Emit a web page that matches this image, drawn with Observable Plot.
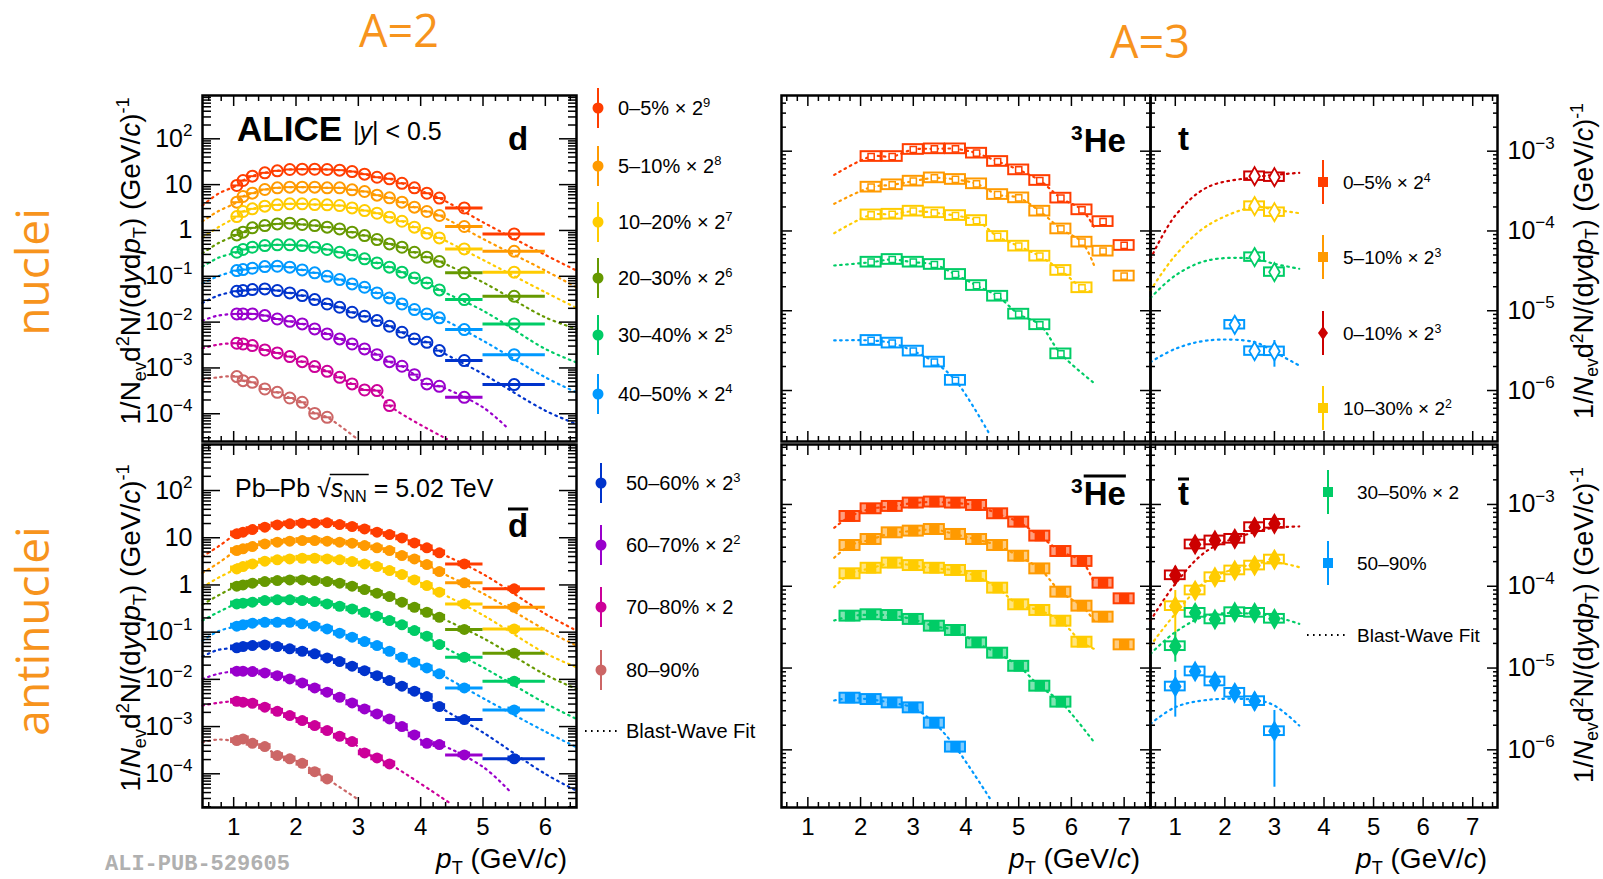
<!DOCTYPE html>
<html><head><meta charset="utf-8">
<script src="https://cdn.jsdelivr.net/npm/d3@7"></script>
<script src="https://cdn.jsdelivr.net/npm/@observablehq/plot@0.6"></script>
<style>
html,body{margin:0;padding:0;background:#fff;}
#root{position:relative;width:1603px;height:879px;overflow:hidden;background:#fff;}
</style></head>
<body><div id="root"></div>
<script>
// ================= DATA =================
// A=2 : deuterons, 10 centrality classes
const centralityD = ["0–5%","5–10%","10–20%","20–30%","30–40%","40–50%","50–60%","60–70%","70–80%","80–90%"];
const factorExpD = [9,8,7,6,5,4,3,2,1,0];
const colorsD = ["#ff3d00","#ff9a00","#ffcc00","#669900","#00cc66","#0099ff","#0033cc","#9900cc","#cc0099","#cc6666"];
const dBinEdges = [1.0,1.1,1.2,1.4,1.6,1.8,2.0,2.2,2.4,2.6,2.8,3.0,3.2,3.4,3.6,3.8,4.0,4.2,4.4,5.0,6.0];

const d0_5   = [9.6,12.3,15.3,18.1,20.0,21.4,21.7,21.7,21.4,20.7,19.3,16.9,14.5,13.4,10.7,8.5,6.5,5.1,3.1,0.84];
const d5_10  = [4.14,5.51,6.51,7.83,8.51,8.81,8.81,8.81,8.51,8.51,7.70,7.08,5.89,5.15,4.14,3.22,2.59,2.12,1.22,0.352];
const d10_20 = [2.01,2.59,2.96,3.39,3.62,3.81,3.81,3.68,3.62,3.50,3.11,2.72,2.38,1.95,1.59,1.18,0.871,0.689,0.396,0.123];
const d20_30 = [0.800,0.917,1.14,1.28,1.39,1.44,1.35,1.28,1.18,1.08,0.917,0.774,0.634,0.509,0.431,0.335,0.261,0.210,0.119,0.0367];
const d30_40 = [0.335,0.384,0.431,0.469,0.485,0.485,0.469,0.431,0.384,0.335,0.293,0.240,0.196,0.158,0.123,0.0923,0.0718,0.0505,0.0310,0.00914];
const d40_50 = [0.133,0.140,0.150,0.163,0.166,0.158,0.138,0.119,0.100,0.0849,0.0682,0.0577,0.0434,0.0337,0.0249,0.0188,0.0151,0.0124,0.00687,0.00195];
const d50_60 = [0.0472,0.0489,0.0513,0.0531,0.0489,0.0434,0.0379,0.0310,0.0249,0.0211,0.0164,0.0134,0.0108,0.00813,0.00601,0.00430,0.00363,0.00239,0.00145,0.000433];
const d60_70 = [0.0151,0.0151,0.0151,0.0139,0.0117,0.0104,0.00914,0.00711,0.00552,0.00430,0.00334,0.00260,0.00195,0.00137,0.00109,0.000714,0.000448,0.000398,0.000229];
const d70_80 = [0.00346,0.00334,0.00308,0.00247,0.00213,0.00177,0.00137,0.00107,0.000845,0.000625,0.000448,0.000331,0.000320,0.000151];
const d80_90 = [0.000647,0.000528,0.000486,0.000348,0.000294,0.000221,0.000178,0.000102,0.0000838];

const dbar0_5   = [12.1,13.1,14.9,16.7,18.7,19.7,20.3,20.3,20.7,19.0,17.3,15.4,13.1,11.7,9.93,7.78,6.10,4.78,2.79,0.826];
const dbar5_10  = [5.36,5.81,6.51,7.41,8.04,8.45,8.73,8.73,8.45,8.04,7.66,6.84,6.10,5.36,4.20,3.56,2.70,1.92,1.11,0.337];
const dbar10_20 = [2.19,2.45,2.79,3.18,3.40,3.56,3.68,3.68,3.56,3.40,3.13,2.79,2.45,2.02,1.66,1.28,0.971,0.702,0.397,0.117];
const dbar20_30 = [0.940,1.00,1.09,1.18,1.24,1.28,1.28,1.24,1.18,1.09,0.940,0.800,0.668,0.568,0.431,0.337,0.264,0.207,0.114,0.0358];
const dbar30_40 = [0.397,0.410,0.431,0.467,0.483,0.483,0.467,0.445,0.397,0.354,0.311,0.264,0.218,0.176,0.143,0.108,0.0820,0.0546,0.0294,0.00912];
const dbar40_50 = [0.134,0.143,0.155,0.162,0.162,0.162,0.150,0.134,0.117,0.0949,0.0781,0.0632,0.0520,0.0394,0.0294,0.0231,0.0175,0.0131,0.00659,0.00225];
const dbar50_60 = [0.0465,0.0495,0.0520,0.0537,0.0495,0.0443,0.0394,0.0347,0.0285,0.0238,0.0190,0.0153,0.0120,0.00944,0.00716,0.00561,0.00433,0.00265,0.00141,0.000207];
const dbar60_70 = [0.0149,0.0149,0.0146,0.0137,0.0120,0.0102,0.00841,0.00659,0.00534,0.00418,0.00317,0.00237,0.00185,0.00145,0.00100,0.000665,0.000443,0.000416,0.000251];
const dbar70_80 = [0.00344,0.00328,0.00312,0.00257,0.00211,0.00171,0.00134,0.00105,0.000822,0.000624,0.000481,0.000277,0.000217,0.000162];
const dbar80_90 = [0.000505,0.000548,0.000443,0.000377,0.000243,0.000207,0.000167,0.000111,0.0000778];

// Blast-wave fit curve readings (d): at pT 0.5, 0.75, 5.0, 6.0 and the end point of each curve
const dFitAt05  = [3.5,1.59,0.71,0.318,0.163,0.0703,0.0262,0.0108,0.00268,0.000556];
const dFitAt075 = [6.3,2.62,1.17,0.526,0.252,0.100,0.0379,0.0139,0.00323,0.000624];
const dFitAt50  = [1.51,0.656,0.228,0.0740,0.0178,0.00394,0.00074,0.000138,null,null];
const dFitAt60  = [0.293,0.133,0.0448,0.0127,0.0026,0.000624,0.000117,null,null,null];
const dFitEndX  = [6.5,6.5,6.5,6.5,6.5,6.5,6.5,5.41,4.42,2.98];
const dFitEndY  = [0.133,0.0575,0.0204,0.00711,0.00132,0.000293,0.0000598,0.0000466,0.0000282,0.0000282];

const dbarFitAt05  = [4.0,1.80,0.895,0.384,0.176,0.0664,0.0304,0.0102,0.00279,0.000466];
const dbarFitAt075 = [6.5,2.88,1.41,0.596,0.264,0.104,0.0421,0.0131,0.00318,0.000531];
const dbarFitAt50  = [1.7,0.66,0.23,0.075,0.018,0.0040,0.00075,0.000140,null,null];
const dbarFitAt60  = [0.244,0.112,0.0358,0.0126,0.00312,0.000783,0.0000993,null,null,null];
const dbarFitEndX  = [6.5,6.5,6.5,6.5,6.5,6.5,6.5,5.42,4.45,2.98];
const dbarFitEndY  = [0.108,0.052,0.0181,0.00628,0.00145,0.000365,0.0000441,0.0000441,0.0000249,0.0000295];

// A=3 : 3He (squares), 5 classes
const colorsA3 = ["#ff3d00","#ff9a00","#ffcc00","#00cc66","#0099ff"];
const he3BinCenters = [1.8,2.2,2.6,3.0,3.4,3.8,4.2,4.6,5.0,5.4,5.8,6.2,6.6,7.0];
const he3_0_5   = [8.57e-4,8.57e-4,1.05e-3,1.07e-3,1.07e-3,9.44e-4,7.43e-4,5.83e-4,4.29e-4,2.58e-4,1.84e-4,1.31e-4,6.58e-5];
const he3_5_10  = [3.54e-4,3.79e-4,4.21e-4,4.63e-4,4.42e-4,3.90e-4,2.86e-4,2.60e-4,1.77e-4,1.06e-4,7.24e-5,5.58e-5,2.72e-5];
const he3_10_30 = [1.59e-4,1.62e-4,1.77e-4,1.69e-4,1.56e-4,1.35e-4,8.53e-5,6.45e-5,4.83e-5,3.20e-5,1.94e-5];
const he3_30_50 = [4.06e-5,4.39e-5,4.06e-5,3.80e-5,2.85e-5,2.07e-5,1.52e-5,9.06e-6,6.67e-6,2.88e-6];
const he3_50_90 = [4.24e-6,3.93e-6,3.12e-6,2.27e-6,1.34e-6];
const he3bar_0_5   = [7.13e-4,8.85e-4,9.46e-4,1.04e-3,1.07e-3,1.04e-3,9.72e-4,7.69e-4,6.08e-4,4.10e-4,2.66e-4,2.01e-4,1.09e-4,7.02e-5];
const he3bar_5_10  = [3.15e-4,3.73e-4,4.50e-4,4.72e-4,4.94e-4,4.30e-4,3.73e-4,3.15e-4,2.33e-4,1.63e-4,8.47e-5,5.71e-5,4.19e-5,1.92e-5];
const he3bar_10_30 = [1.42e-4,1.66e-4,1.92e-4,1.79e-4,1.66e-4,1.56e-4,1.32e-4,9.48e-5,5.93e-5,5.06e-5,3.74e-5,2.07e-5];
const he3bar_30_50 = [4.31e-5,4.48e-5,4.39e-5,3.93e-5,3.25e-5,2.88e-5,2.03e-5,1.52e-5,1.05e-5,6.00e-6,3.83e-6];
const he3bar_50_90 = [4.28e-6,4.12e-6,3.75e-6,3.26e-6,2.12e-6,1.08e-6];
const he3FitAt15    = [5.04e-4,2.19e-4,9.38e-5,3.69e-5,4.24e-6];
const he3FitEndX    = [6.43,6.43,6.43,6.43,4.46];
const he3FitEndY    = [1.12e-4,3.69e-5,1.68e-5,1.24e-6,2.74e-7];
const he3barFitAt15 = [5.19e-4,2.23e-4,9.75e-5,3.81e-5,4.01e-6];
const he3barFitEndX = [6.43,6.43,6.43,6.43,4.46];
const he3barFitEndY = [1.10e-4,3.81e-5,1.72e-5,1.24e-6,2.51e-7];

// A=3 : triton (diamonds), 4 classes
const colorsT = ["#cc0000","#ffcc00","#00cc66","#0099ff"];
const tX      = [2.6,3.0];
const tX50_90 = [2.2,2.6,3.0];
const t0_10  = [4.86e-4,4.72e-4];  const t0_10Lo  = [4.45e-4,4.35e-4]; const t0_10Hi  = [5.30e-4,5.15e-4];
const t10_30 = [2.05e-4,1.72e-4];  const t10_30Lo = [1.88e-4,1.57e-4]; const t10_30Hi = [2.24e-4,1.89e-4];
const t30_50 = [4.70e-5,3.05e-5];  const t30_50Lo = [4.30e-5,2.65e-5]; const t30_50Hi = [5.15e-5,3.50e-5];
const t50_90 = [6.67e-6,3.12e-6,3.10e-6]; const t50_90Lo = [6.0e-6,2.4e-6,1.96e-6]; const t50_90Hi = [7.4e-6,4.0e-6,4.24e-6];
const tbarX = [1.0,1.4,1.8,2.2,2.6,3.0];
const tbar0_10  = [1.36e-4,3.24e-4,3.63e-4,3.80e-4,5.28e-4,5.80e-4];
const tbar0_10Lo = [1.05e-4,2.95e-4,3.35e-4,3.50e-4,4.85e-4,5.35e-4];
const tbar0_10Hi = [1.75e-4,3.55e-4,3.95e-4,4.15e-4,5.75e-4,6.30e-4];
const tbar10_30 = [5.71e-5,8.87e-5,1.29e-4,1.56e-4,1.79e-4,2.12e-4];
const tbar10_30Lo = [2.38e-5,7.6e-5,1.18e-4,1.45e-4,1.66e-4,1.96e-4];
const tbar10_30Hi = [8.87e-5,1.03e-4,1.41e-4,1.68e-4,1.93e-4,2.30e-4];
const tbar30_50 = [1.85e-5,4.73e-5,3.93e-5,4.82e-5,4.73e-5,4.00e-5];
const tbar30_50Lo = [1.18e-5,4.3e-5,3.6e-5,4.4e-5,4.3e-5,3.6e-5];
const tbar30_50Hi = [2.75e-5,5.2e-5,4.3e-5,5.3e-5,5.2e-5,4.4e-5];
const tbar50_90 = [5.94e-6,9.08e-6,6.85e-6,4.98e-6,3.94e-6,1.69e-6];
const tbar50_90Lo = [2.51e-6,7.9e-6,5.9e-6,4.3e-6,3.0e-6,3.49e-7];
const tbar50_90Hi = [9.33e-6,1.04e-5,7.9e-6,5.8e-6,5.0e-6,3.03e-6];
const tFitX = [0.5,1.0,1.65,2.6,3.0,3.5];
const tFit0_10  = [4.48e-5,1.56e-4,3.54e-4,4.72e-4,5.04e-4,5.35e-4];
const tFit10_30 = [1.80e-5,4.93e-5,1.17e-4,2.00e-4,1.85e-4,1.67e-4];
const tFit30_50 = [1.45e-5,2.77e-5,4.27e-5,4.48e-5,3.87e-5,3.36e-5];
const tFit50_90 = [2.27e-6,3.33e-6,4.24e-6,4.04e-6,3.03e-6,2.06e-6];
const tbarFit0_10  = [3.81e-5,1.07e-4,2.74e-4,4.59e-4,5.19e-4,5.38e-4];
const tbarFit10_30 = [1.89e-5,4.60e-5,1.18e-4,1.88e-4,1.97e-4,1.71e-4];
const tbarFit30_50 = [1.49e-5,2.75e-5,4.39e-5,4.60e-5,4.27e-5,3.47e-5];
const tbarFit50_90 = [2.08e-6,3.32e-6,4.08e-6,4.08e-6,3.48e-6,1.98e-6];

// legend texts
const legendA3Names = ["0–5%","5–10%","0–10%","10–30%","30–50%","50–90%"];
const legendA3Exp   = [4,3,3,2,1,0];

// ================= RENDER =================
const FONT = '"Liberation Sans", Arial, Helvetica, sans-serif';
const root = document.getElementById("root");
const DASH = "1.6,4.4";

function logTicks(e0, e1) {
  const maj = [], min = [];
  for (let e = Math.floor(e0); e <= Math.ceil(e1); e++) {
    for (let k = 1; k <= 9; k++) {
      const lv = e + Math.log10(k);
      if (lv < e0 - 1e-9 || lv > e1 + 1e-9) continue;
      (k === 1 ? maj : min).push(k * Math.pow(10, e));
    }
  }
  return {maj, min};
}
function linTicks(a, b) {
  const maj = [], min = [];
  for (let i = Math.ceil(a * 5 - 1e-9); i <= Math.floor(b * 5 + 1e-9); i++) (i % 5 === 0 ? maj : min).push(i / 5);
  return {maj, min};
}
function expLabel(v, plain) {
  const e = Math.round(Math.log10(v));
  if (plain && e === 0) return "1";
  if (plain && e === 1) return "10";
  return "10^" + (e < 0 ? "\u2212" + (-e) : String(e));
}
function supify(svg, F) {
  svg.querySelectorAll("text").forEach(t => {
    const s = t.textContent; const k = s.indexOf("^");
    if (k < 0) return;
    t.textContent = s.slice(0, k);
    const ts = document.createElementNS("http://www.w3.org/2000/svg", "tspan");
    ts.setAttribute("dy", -0.42 * F); ts.setAttribute("font-size", 0.68 * F);
    ts.textContent = s.slice(k + 1);
    t.appendChild(ts);
  });
}

function addPanel(o) {
  const [mT, mR, mB, mL] = o.m;
  const W = o.R - o.L + mL + mR, H = o.B - o.T + mT + mB;
  const yt = logTicks(o.yExp[0], o.yExp[1]);
  const xt = linTicks(o.xDomain[0], o.xDomain[1]);
  const blank = () => "";
  const sw = 1.5;
  const axes = [];
  for (const anchor of ["bottom", "top"]) {
    axes.push(Plot.axisX({anchor, ticks: xt.maj, tickSize: -o.tk[0], tickFormat: blank, strokeWidth: sw, label: null}));
    axes.push(Plot.axisX({anchor, ticks: xt.min, tickSize: -o.tk[1], tickFormat: blank, strokeWidth: sw, label: null}));
  }
  for (const anchor of ["left", "right"]) {
    axes.push(Plot.axisY({anchor, ticks: yt.maj, tickSize: -o.tk[2], tickFormat: blank, strokeWidth: sw, label: null}));
    axes.push(Plot.axisY({anchor, ticks: yt.min, tickSize: -o.tk[3], tickFormat: blank, strokeWidth: sw, label: null}));
  }
  if (o.xLabels) axes.push(Plot.axisX({anchor: "bottom", ticks: xt.maj, tickSize: 0, tickPadding: 10, tickFormat: d => String(d), fontSize: 24, label: null}));
  if (o.yLabels) axes.push(Plot.axisY({anchor: o.yLabels, ticks: yt.maj, tickSize: 0, tickPadding: 10, tickFormat: v => expLabel(v, o.yLabels === "left"), fontSize: 25, label: null}));
  const svg = Plot.plot({
    width: W, height: H, marginTop: mT, marginRight: mR, marginBottom: mB, marginLeft: mL,
    x: {domain: o.xDomain, label: null},
    y: {type: "log", domain: [Math.pow(10, o.yExp[0]), Math.pow(10, o.yExp[1])], label: null},
    marks: [...o.marks, ...axes, Plot.frame({stroke: "black", strokeWidth: 2.5})]
  });
  supify(svg, 25);
  svg.style.position = "absolute";
  svg.style.left = (o.L - mL) + "px";
  svg.style.top = (o.T - mT) + "px";
  svg.style.background = "transparent";
  svg.style.overflow = "visible";
  svg.style.maxWidth = "none";
  svg.style.fontFamily = FONT;
  svg.style.color = "black";
  root.appendChild(svg);
}

function dMarks(series, fA, fB, f5, f6, eX, eY, filled) {
  const centers = dBinEdges.slice(0, -1).map((e, i) => (e + dBinEdges[i + 1]) / 2);
  const fits = [], pts = [];
  series.forEach((vals, s) => {
    const color = colorsD[s];
    const rows = vals.map((v, i) => ({x: centers[i], lo: dBinEdges[i], hi: dBinEdges[i + 1], y: v}));
    const fit = [{x: 0.5, y: fA[s]}, {x: 0.75, y: fB[s]}].concat(rows.filter(r => r.x < 4.4).map(r => ({x: r.x, y: r.y})));
    if (f5[s] != null) fit.push({x: 5.0, y: f5[s]});
    if (f6[s] != null) fit.push({x: 6.0, y: f6[s]});
    fit.push({x: eX[s], y: eY[s]});
    fits.push(Plot.line(fit, {x: "x", y: "y", stroke: color, strokeWidth: 2.2, strokeDasharray: DASH, curve: "catmull-rom"}));
    const wide = rows.filter(r => r.hi - r.lo > 0.45), narrow = rows.filter(r => r.hi - r.lo <= 0.45);
    pts.push(Plot.ruleY(wide, {x1: "lo", x2: "hi", y: "y", stroke: color, strokeWidth: 3}));
    if (filled) {
      pts.push(Plot.rect(rows, {x1: d => d.x - 0.1, x2: d => d.x + 0.1, y1: d => d.y / 1.15, y2: d => d.y * 1.15, fill: color}));
      pts.push(Plot.dot(rows, {x: "x", y: "y", r: 5.5, fill: color}));
    } else {
      pts.push(Plot.ruleY(narrow, {x1: d => d.x - 0.075, x2: d => d.x + 0.075, y: "y", stroke: color, strokeWidth: 2}));
      pts.push(Plot.dot(rows, {x: "x", y: "y", r: 5.5, stroke: color, strokeWidth: 2, fill: "none"}));
    }
  });
  return fits.concat(pts);
}

function heMarks(series, start, fS, eX, eY, filled) {
  const fits = [], pts = [];
  series.forEach((vals, s) => {
    const color = colorsA3[s];
    const rows = vals.map((v, i) => ({x: he3BinCenters[start + i], y: v}));
    const fit = [{x: 1.5, y: fS[s]}].concat(rows.filter(r => r.x < 6.3)).concat([{x: eX[s], y: eY[s]}]);
    fits.push(Plot.line(fit, {x: "x", y: "y", stroke: color, strokeWidth: 2.2, strokeDasharray: DASH, curve: "catmull-rom"}));
    pts.push(Plot.rect(rows, {x1: d => d.x - 0.19, x2: d => d.x + 0.19, y1: d => d.y / 1.15, y2: d => d.y * 1.15,
      stroke: color, strokeWidth: 2, fill: filled ? color : "none", fillOpacity: 0.5}));
    pts.push(Plot.dot(rows, {x: "x", y: "y", symbol: "square", r: filled ? 5 : 3.5, fill: filled ? color : "white", stroke: color, strokeWidth: 1.5}));
  });
  return fits.concat(pts);
}

function tMarks(list, filled) {
  const fits = [], pts = [];
  list.forEach(o => {
    const rows = o.y.map((v, i) => ({x: o.x[i], y: v, lo: o.lo[i], hi: o.hi[i]}));
    const fit = o.fit.map((v, i) => ({x: tFitX[i], y: v}));
    fits.push(Plot.line(fit, {x: "x", y: "y", stroke: o.color, strokeWidth: 2.2, strokeDasharray: DASH, curve: "catmull-rom"}));
    pts.push(Plot.ruleX(rows, {x: "x", y1: "lo", y2: "hi", stroke: o.color, strokeWidth: 2}));
    pts.push(Plot.rect(rows, {x1: d => d.x - 0.2, x2: d => d.x + 0.2, y1: d => d.y / 1.13, y2: d => d.y * 1.13, stroke: o.color, strokeWidth: 2, fill: "none"}));
    pts.push(Plot.dot(rows, {x: "x", y: "y", symbol: "diamond", r: 5.5, fill: filled ? o.color : "white", stroke: o.color, strokeWidth: 1.8}));
  });
  return fits.concat(pts);
}

const tkA2 = [10, 5, 18, 9], tkA3 = [10, 5, 11, 5];

// A=2 panels
addPanel({L: 202, R: 576, T: 95, B: 441, m: [10, 10, 10, 75], xDomain: [0.5, 6.5], yExp: [-4.605, 2.945], tk: tkA2, yLabels: "left",
  marks: dMarks([d0_5, d5_10, d10_20, d20_30, d30_40, d40_50, d50_60, d60_70, d70_80, d80_90], dFitAt05, dFitAt075, dFitAt50, dFitAt60, dFitEndX, dFitEndY, false)});
addPanel({L: 202, R: 576, T: 444, B: 807, m: [10, 10, 50, 75], xDomain: [0.5, 6.5], yExp: [-4.714, 2.975], tk: tkA2, yLabels: "left", xLabels: true,
  marks: dMarks([dbar0_5, dbar5_10, dbar10_20, dbar20_30, dbar30_40, dbar40_50, dbar50_60, dbar60_70, dbar70_80, dbar80_90], dbarFitAt05, dbarFitAt075, dbarFitAt50, dbarFitAt60, dbarFitEndX, dbarFitEndY, true)});

// A=3 panels
addPanel({L: 781, R: 1150, T: 95, B: 441, m: [10, 10, 10, 10], xDomain: [0.5, 7.5], yExp: [-6.639, -2.302], tk: tkA3,
  marks: heMarks([he3_0_5, he3_5_10, he3_10_30, he3_30_50, he3_50_90], 1, he3FitAt15, he3FitEndX, he3FitEndY, false)});
addPanel({L: 1150, R: 1497, T: 95, B: 441, m: [10, 80, 10, 10], xDomain: [0.5, 7.5], yExp: [-6.639, -2.302], tk: tkA3, yLabels: "right",
  marks: tMarks([
    {x: tX, y: t0_10, lo: t0_10Lo, hi: t0_10Hi, fit: tFit0_10, color: colorsT[0]},
    {x: tX, y: t10_30, lo: t10_30Lo, hi: t10_30Hi, fit: tFit10_30, color: colorsT[1]},
    {x: tX, y: t30_50, lo: t30_50Lo, hi: t30_50Hi, fit: tFit30_50, color: colorsT[2]},
    {x: tX50_90, y: t50_90, lo: t50_90Lo, hi: t50_90Hi, fit: tFit50_90, color: colorsT[3]}], false)});
addPanel({L: 781, R: 1150, T: 444, B: 807, m: [10, 10, 50, 10], xDomain: [0.5, 7.5], yExp: [-6.705, -2.267], tk: tkA3, xLabels: true,
  marks: heMarks([he3bar_0_5, he3bar_5_10, he3bar_10_30, he3bar_30_50, he3bar_50_90], 0, he3barFitAt15, he3barFitEndX, he3barFitEndY, true)});
addPanel({L: 1150, R: 1497, T: 444, B: 807, m: [10, 80, 50, 10], xDomain: [0.5, 7.5], yExp: [-6.705, -2.267], tk: tkA3, yLabels: "right", xLabels: true,
  marks: tMarks([
    {x: tbarX, y: tbar0_10, lo: tbar0_10Lo, hi: tbar0_10Hi, fit: tbarFit0_10, color: colorsT[0]},
    {x: tbarX, y: tbar10_30, lo: tbar10_30Lo, hi: tbar10_30Hi, fit: tbarFit10_30, color: colorsT[1]},
    {x: tbarX, y: tbar30_50, lo: tbar30_50Lo, hi: tbar30_50Hi, fit: tbarFit30_50, color: colorsT[2]},
    {x: tbarX, y: tbar50_90, lo: tbar50_90Lo, hi: tbar50_90Hi, fit: tbarFit50_90, color: colorsT[3]}], true)});

// ================= ANNOTATIONS =================
const ov = d3.create("svg").attr("width", 1603).attr("height", 879)
  .style("position", "absolute").style("left", "0px").style("top", "0px").style("overflow", "hidden");
root.appendChild(ov.node());

function rich(x, y, parts, opt) {
  const F = opt.size;
  const t = ov.append("text").attr("x", x).attr("y", y).attr("font-size", F)
    .attr("font-family", opt.family || FONT).attr("fill", opt.fill || "#000")
    .attr("font-weight", opt.weight || "normal").attr("text-anchor", opt.anchor || "start");
  if (opt.rotate) t.attr("transform", `rotate(${opt.rotate},${x},${y})`);
  let shift = 0;
  const spans = [];
  for (const p of parts) {
    const s = typeof p === "string" ? {t: p} : p;
    const ts = t.append("tspan").text(s.t);
    let target = 0;
    if (s.sup) target = -0.38 * F; else if (s.sub) target = 0.2 * F;
    ts.attr("dy", target - shift); shift = target;
    if (s.sup || s.sub) ts.attr("font-size", 0.65 * F);
    if (s.i) ts.attr("font-style", "italic");
    spans.push(ts.node());
  }
  return {t: t.node(), spans};
}
function hline(x1, x2, y, w, color) {
  ov.append("line").attr("x1", x1).attr("x2", x2).attr("y1", y).attr("y2", y).attr("stroke", color || "#000").attr("stroke-width", w);
}

// big orange headers
const ORANGE = "#f7941d", OS = '"Open Sans", sans-serif';
rich(399, 47, ["A=2"], {size: 45, family: OS, fill: ORANGE, anchor: "middle"});
rich(1150, 58, ["A=3"], {size: 45, family: OS, fill: ORANGE, anchor: "middle"});
rich(49, 272, ["nuclei"], {size: 46, family: OS, fill: ORANGE, anchor: "middle", rotate: -90});
rich(49, 631, ["antinuclei"], {size: 46, family: OS, fill: ORANGE, anchor: "middle", rotate: -90});

// axis titles
const ytitleA = ["1/N", {t: "ev", sub: true}, "d", {t: "2", sup: true}, "N/(d", {t: "y", i: true}, "d", {t: "p", i: true}, {t: "T", sub: true}, ") (GeV/", {t: "c", i: true}, ")", {t: "-1", sup: true}];
const ytitleB = ["1/", {t: "N", i: true}, {t: "ev", sub: true}, "d", {t: "2", sup: true}, "N/(d", {t: "y", i: true}, "d", {t: "p", i: true}, {t: "T", sub: true}, ") (GeV/", {t: "c", i: true}, ")", {t: "-1", sup: true}];
rich(140, 261, ytitleA, {size: 28, anchor: "middle", rotate: -90});
rich(140, 628, ytitleB, {size: 28, anchor: "middle", rotate: -90});
rich(1593, 261, ytitleB, {size: 27, anchor: "middle", rotate: -90});
rich(1593, 625, ytitleB, {size: 27, anchor: "middle", rotate: -90});
const xtitle = [{t: "p", i: true}, {t: "T", sub: true}, " (GeV/", {t: "c", i: true}, ")"];
rich(567, 868, xtitle, {size: 28, anchor: "end"});
rich(1140, 868, xtitle, {size: 28, anchor: "end"});
rich(1487, 868, xtitle, {size: 28, anchor: "end"});

// in-panel labels
rich(237, 141, ["ALICE"], {size: 35, weight: "bold"});
rich(353, 140, ["|", {t: "y", i: true}, "| < 0.5"], {size: 25});
rich(508, 150, ["d"], {size: 33, weight: "bold"});
{
  const a = rich(235, 497, ["Pb–Pb √"], {size: 25});
  const x0 = 235 + a.t.getComputedTextLength();
  const b = rich(x0, 497, [{t: "s", i: true}, {t: "NN", sub: true}, " = 5.02 TeV"], {size: 25});
  const w = b.spans[0].getComputedTextLength() + b.spans[1].getComputedTextLength();
  hline(x0 - 1, x0 + w + 2, 497 - 22.5, 1.6);
}
{
  const a = rich(508, 537, ["d"], {size: 33, weight: "bold"});
  hline(508, 508 + a.t.getComputedTextLength(), 537 - 28, 3);
}
function heLabel(x, y, bar) {
  const a = rich(x, y - 12, ["3"], {size: 21, weight: "bold"});
  const x1 = x + a.t.getComputedTextLength() + 1;
  const b = rich(x1, y, ["He"], {size: 33, weight: "bold"});
  if (bar) hline(x1, x1 + b.t.getComputedTextLength(), y - 29, 3);
}
heLabel(1071, 152, false);
heLabel(1071, 505, true);
rich(1178, 150, ["t"], {size: 33, weight: "bold"});
{
  const a = rich(1178, 505, ["t"], {size: 33, weight: "bold"});
  hline(1178, 1178 + a.t.getComputedTextLength(), 505 - 26, 3);
}

// left legend
const legLY = [108, 166, 222, 278, 335, 394, 483, 545, 607, 670];
centralityD.forEach((name, s) => {
  const y = legLY[s], mx = s < 6 ? 598 : 601, tx = s < 6 ? 618 : 626, c = colorsD[s];
  ov.append("line").attr("x1", mx).attr("x2", mx).attr("y1", y - 20).attr("y2", y + 20).attr("stroke", c).attr("stroke-width", 2);
  ov.append("circle").attr("cx", mx).attr("cy", y).attr("r", 5.5).attr("fill", c);
  const e = factorExpD[s];
  const parts = [name + (e > 0 ? " × 2" : "")];
  if (e > 1) parts.push({t: String(e), sup: true});
  rich(tx, y + 7, parts, {size: 20});
});
ov.append("line").attr("x1", 585).attr("x2", 618).attr("y1", 731).attr("y2", 731).attr("stroke", "#000").attr("stroke-width", 2).attr("stroke-dasharray", DASH);
rich(626, 738, ["Blast-Wave Fit"], {size: 20});

// right legend
const legRY = [182, 257, 333, 408, 492, 563];
const legRC = ["#ff3d00", "#ff9a00", "#cc0000", "#ffcc00", "#00cc66", "#0099ff"];
legendA3Names.forEach((name, s) => {
  const y = legRY[s], mx = s < 4 ? 1323 : 1328, tx = s < 4 ? 1343 : 1357, c = legRC[s];
  ov.append("line").attr("x1", mx).attr("x2", mx).attr("y1", y - 22).attr("y2", y + 22).attr("stroke", c).attr("stroke-width", 2);
  if (s === 2) ov.append("path").attr("d", `M${mx},${y - 7}L${mx + 5},${y}L${mx},${y + 7}L${mx - 5},${y}Z`).attr("fill", c);
  else ov.append("rect").attr("x", mx - 5).attr("y", y - 5).attr("width", 10).attr("height", 10).attr("fill", c);
  const e = legendA3Exp[s];
  const parts = [name + (e > 0 ? " × 2" : "")];
  if (e > 1) parts.push({t: String(e), sup: true});
  rich(tx, y + 7, parts, {size: 19});
});
ov.append("line").attr("x1", 1307).attr("x2", 1347).attr("y1", 635).attr("y2", 635).attr("stroke", "#000").attr("stroke-width", 2).attr("stroke-dasharray", DASH);
rich(1357, 642, ["Blast-Wave Fit"], {size: 19});

// publication tag
rich(105, 870, ["ALI-PUB-529605"], {size: 22, family: '"Liberation Mono", monospace', weight: "bold", fill: "#b0b0b0"});
</script>
</body></html>
